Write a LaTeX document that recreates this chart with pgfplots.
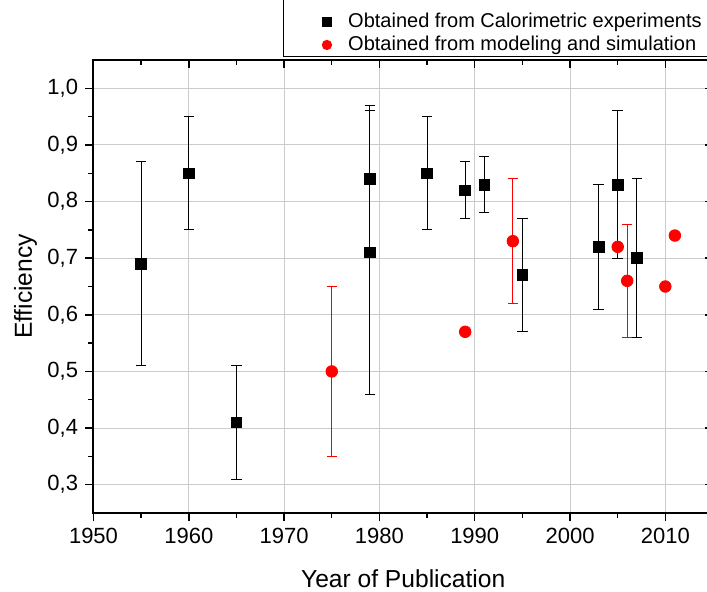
\documentclass[border=0pt]{standalone}
\usepackage{fontspec}
\setmainfont{Liberation Sans}
\usepackage{pgfplots}
\pgfplotsset{compat=1.18}
\usepackage{pgfplotstable}

\pgfplotstableread{
x y e
1955 0.69 0.18
1960 0.85 0.10
1965 0.41 0.10
1979 0.84 0.13
1979 0.71 0.25
1985 0.85 0.10
1989 0.82 0.05
1991 0.83 0.05
1995 0.67 0.10
2003 0.72 0.11
2005 0.83 0.13
2007 0.70 0.14
}\calo

\pgfplotstableread{
x y e
1975 0.50 0.15
1994 0.73 0.11
2006 0.66 0.10
}\simerr

\pgfplotstableread{
x y
1989 0.57
2005 0.72
2010 0.65
2011 0.74
}\simpt

\pgfplotsset{
  myframe/.style={
    scale only axis,
    width=309.75pt, height=226.5pt,
    xmin=1950, xmax=2015, ymin=0.25, ymax=1.05,
    xtick={1950,1960,...,2010},
    ytick={0.3,0.4,...,1.0},
    minor x tick num=1, minor y tick num=1,
    major tick length=4.2pt, minor tick length=2.5pt,
    axis line style={line width=1pt},
    tick style={line width=0.7pt, black},
  },
  legsq/.style={legend image code/.code={\path (0pt,-2pt) (26.5pt,2pt);
    \draw[##1, mark size=2pt] plot coordinates {(17.5pt,0pt)};}},
  legci/.style={legend image code/.code={\path (0pt,-2pt) (26.5pt,2pt);
    \draw[##1, mark size=2.25pt] plot coordinates {(17.5pt,0pt)};}},
}

\begin{document}
\begin{tikzpicture}
\begin{axis}[
  myframe,
  xtick pos=left, ytick pos=left, tick align=outside,
  grid=major,
  major grid style={line width=0.5pt, black!20},
  /pgf/number format/assume math mode=true,
  y tick label style={/pgf/number format/.cd, use comma, fixed, fixed zerofill, precision=1},
  x tick label style={/pgf/number format/1000 sep={}},
  ticklabel style={font=\fontsize{11}{12}\selectfont},
  xlabel={Year of Publication},
  ylabel={Efficiency},
  label style={font=\fontsize{12.3}{14}\selectfont},
  xlabel style={at={(axis description cs:0.5,-0.1445)}, anchor=center},
  ylabel style={at={(axis description cs:-0.1096,0.5)}, anchor=center},
  legend style={at={(rel axis cs:1,1)}, anchor=south east, yshift=1.5pt,
    draw=black, line width=0.6pt,
    font=\fontsize{10}{12}\selectfont,
    inner xsep=4pt, inner ysep=0pt, row sep=0pt, column sep=0pt,
    nodes={inner sep=1.35pt}},
  legend cell align=left,
  clip=false,
]
\addlegendimage{empty legend}
\addlegendentry{\rule{0pt}{16pt}}
\addplot[only marks, mark=square*, mark size=2.67pt, black, legsq,
  error bars/.cd, y dir=both, y explicit,
  error bar style={line width=0.5pt, black},
  error mark options={rotate=90, mark size=2.6pt, line width=0.5pt, black}]
  table[x=x, y=y, y error=e] {\calo};
\addlegendentry{Obtained from Calorimetric experiments}
\addplot[only marks, mark=*, mark size=2.9pt, red, legci,
  error bars/.cd, y dir=both, y explicit,
  error bar style={line width=0.5pt, red},
  error mark options={rotate=90, mark size=2.6pt, line width=0.5pt, red}]
  table[x=x, y=y, y error=e] {\simerr};
\addlegendentry{Obtained from modeling and simulation}
\addplot[only marks, mark=*, mark size=2.9pt, red, forget plot] table[x=x, y=y] {\simpt};
\end{axis}
\begin{axis}[
  myframe,
  xtick pos=right, ytick pos=right, tick align=inside,
  xticklabels={}, yticklabels={},
]
\end{axis}
\pgfresetboundingbox
\useasboundingbox (-46.75pt,-39.5pt) rectangle (306.75pt,256.5pt);
\end{tikzpicture}
\end{document}
